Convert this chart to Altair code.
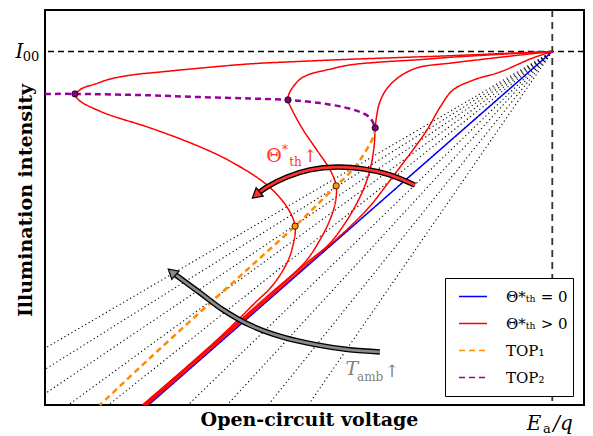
import altair as alt
import pandas as pd

# ---------------- data (normalised units: V/(E_a/q), I/I00) ----------------
SERIES = ["Θ*ₜₕ = 0", "Θ*ₜₕ > 0", "TOP₁", "TOP₂"]
COLORS = ["#0000ff", "#ff0000", "#ff8c00", "#990099"]
DASHES = [[1, 0], [1, 0], [6, 4], [6, 4]]

# ambient-temperature lines: all start at (1, 1), x-intercepts at I = 0
T_AMB_X0 = [0.519, 0.440, 0.359, 0.282, 0.204, 0.125, 0.046, -0.033, -0.112, -0.191]

THETA0_X = [1.000, 0.204]
THETA0_Y = [1.000, 0.000]

RED_A_X = [1.000, 0.897, 0.798, 0.700, 0.601, 0.503, 0.404, 0.306, 0.227, 0.173, 0.128, 0.099,
           0.075, 0.063, 0.059, 0.063, 0.075, 0.099, 0.128, 0.207, 0.306, 0.371, 0.438, 0.477,
           0.493, 0.489, 0.477, 0.449, 0.414, 0.384, 0.336, 0.265, 0.192]
RED_A_Y = [1.000, 0.994, 0.988, 0.983, 0.978, 0.972, 0.965, 0.953, 0.942, 0.934, 0.922, 0.908,
           0.897, 0.885, 0.880, 0.868, 0.854, 0.837, 0.820, 0.784, 0.730, 0.685, 0.622, 0.560,
           0.506, 0.453, 0.402, 0.339, 0.289, 0.246, 0.180, 0.090, 0.000]

RED_B_X = [1.000, 0.897, 0.792, 0.739, 0.660, 0.601, 0.556, 0.522, 0.503, 0.489, 0.481, 0.479,
           0.487, 0.509, 0.536, 0.562, 0.574, 0.572, 0.560, 0.542, 0.513, 0.432, 0.353, 0.274, 0.195]
RED_B_Y = [1.000, 0.992, 0.983, 0.977, 0.970, 0.962, 0.948, 0.936, 0.922, 0.900, 0.880, 0.863,
           0.835, 0.778, 0.721, 0.665, 0.620, 0.571, 0.518, 0.467, 0.405, 0.300, 0.200, 0.100, 0.000]

RED_C_X = [1.000, 0.936, 0.857, 0.798, 0.739, 0.710, 0.690, 0.672, 0.660, 0.654, 0.651,
           0.649, 0.643, 0.631, 0.613, 0.589, 0.560, 0.514, 0.436, 0.356, 0.277, 0.198]
RED_C_Y = [1.000, 0.990, 0.977, 0.967, 0.956, 0.939, 0.919, 0.891, 0.857, 0.820, 0.784,
           0.736, 0.679, 0.622, 0.566, 0.509, 0.455, 0.400, 0.300, 0.200, 0.100, 0.000]

RED_D_X = [1.000, 0.962, 0.897, 0.844, 0.804, 0.779, 0.753, 0.725, 0.700, 0.672, 0.641,
           0.598, 0.519, 0.440, 0.360, 0.281, 0.201]
RED_D_Y = [1.000, 0.982, 0.942, 0.919, 0.891, 0.843, 0.778, 0.721, 0.673, 0.620, 0.563,
           0.500, 0.400, 0.300, 0.200, 0.100, 0.000]

TOP1_X = [0.651, 0.647, 0.621, 0.597, 0.574, 0.534, 0.493, 0.404, 0.306, 0.207, 0.108]
TOP1_Y = [0.784, 0.758, 0.693, 0.651, 0.620, 0.563, 0.506, 0.390, 0.263, 0.133, 0.000]

TOP2_X = [0.000, 0.059, 0.207, 0.306, 0.404, 0.479, 0.542, 0.587, 0.621, 0.641, 0.651]
TOP2_Y = [0.880, 0.880, 0.876, 0.871, 0.867, 0.863, 0.854, 0.843, 0.829, 0.812, 0.784]

TOP1_DOT_X = [0.493, 0.574]
TOP1_DOT_Y = [0.506, 0.620]
TOP2_DOT_X = [0.059, 0.479, 0.651]
TOP2_DOT_Y = [0.880, 0.863, 0.784]

THETA_ARROW_X = [0.729, 0.680, 0.627, 0.576, 0.522, 0.477, 0.438, 0.416]
THETA_ARROW_Y = [0.622, 0.651, 0.668, 0.673, 0.665, 0.645, 0.617, 0.594]
TAMB_ARROW_X = [0.660, 0.601, 0.536, 0.469, 0.404, 0.351, 0.306, 0.266, 0.250]
TAMB_ARROW_Y = [0.150, 0.156, 0.170, 0.192, 0.226, 0.269, 0.317, 0.359, 0.376]

X_DOMAIN = [0.0, 1.0625]
Y_DOMAIN = [0.0, 1.1174]

# ---------------- tables ----------------
def table(parts):
    rows = []
    for series, cid, xs, ys in parts:
        for i, (x, y) in enumerate(zip(xs, ys)):
            rows.append({"series": series, "curve": cid, "i": i, "x": x, "y": y})
    return pd.DataFrame(rows)

solid_df = table([(SERIES[0], "b", THETA0_X, THETA0_Y),
                  (SERIES[1], "A", RED_A_X, RED_A_Y),
                  (SERIES[1], "B", RED_B_X, RED_B_Y),
                  (SERIES[1], "C", RED_C_X, RED_C_Y),
                  (SERIES[1], "D", RED_D_X, RED_D_Y)])
dashed_df = table([(SERIES[2], "t1", TOP1_X, TOP1_Y),
                   (SERIES[3], "t2", TOP2_X, TOP2_Y)])
dotted_df = table([("T", k, [1.0, x0], [1.0, 0.0]) for k, x0 in enumerate(T_AMB_X0)])
theta_arrow_df = pd.DataFrame({"x": THETA_ARROW_X, "y": THETA_ARROW_Y, "i": range(len(THETA_ARROW_X))})
tamb_arrow_df = pd.DataFrame({"x": TAMB_ARROW_X, "y": TAMB_ARROW_Y, "i": range(len(TAMB_ARROW_X))})
one = pd.DataFrame({"a": [0]})

# ---------------- encodings ----------------
SERIF = "DejaVu Serif"
XS = alt.Scale(domain=X_DOMAIN, nice=False, zero=False)
YS = alt.Scale(domain=Y_DOMAIN, nice=False, zero=False)
XAXIS = alt.Axis(values=[1], labels=False, title="Open-circuit voltage",
                 titleFont=SERIF, titleFontWeight="bold", titleFontSize=19,
                 titleColor="black", titleY=20, titleX=264, titleBaseline="alphabetic",
                 grid=False, domain=False, ticks=False)
YAXIS = alt.Axis(values=[1], labels=False, title="Illumination intensity",
                 titleFont=SERIF, titleFontWeight="bold", titleFontSize=19,
                 titleColor="black", titleX=-14, titleY=190, titleAngle=270,
                 titleBaseline="alphabetic", titleAlign="center",
                 grid=False, domain=False, ticks=False)
X = alt.X("x:Q", scale=XS, axis=XAXIS)
Y = alt.Y("y:Q", scale=YS, axis=YAXIS)

LEG = alt.Legend(title=None, orient="none", legendX=400, legendY=268, symbolType="stroke",
                 symbolSize=784, symbolStrokeWidth=1.5, clipHeight=27, rowPadding=0,
                 padding=5, symbolOffset=8, labelOffset=18, labelFont=SERIF, labelFontSize=15,
                 labelColor="black", strokeColor="black", fillColor="white", labelLimit=200)
COLOR = alt.Color("series:N", scale=alt.Scale(domain=SERIES, range=COLORS), legend=LEG)
DASH = alt.StrokeDash("series:N", scale=alt.Scale(domain=SERIES, range=DASHES), legend=LEG)

# ---------------- layers ----------------
dotted = alt.Chart(dotted_df).mark_line(clip=True, color="black", strokeWidth=1.1,
                                         strokeDash=[1.2, 2.8]).encode(x=X, y=Y, detail="curve:N", order="i:Q")

i00 = alt.Chart(pd.DataFrame({"y": [1.0]})).mark_rule(color="black", strokeWidth=1.5,
                                                      strokeDash=[6, 4]).encode(y=Y)
ea = alt.Chart(pd.DataFrame({"x": [1.0]})).mark_rule(color="#333333", strokeWidth=1.8,
                                                     strokeDash=[7, 5]).encode(x=X)

solid = alt.Chart(solid_df).mark_line(strokeWidth=1.5, interpolate="catmull-rom").encode(
    x=X, y=Y, color=COLOR, strokeDash=DASH, detail="curve:N", order="i:Q")
dashed = alt.Chart(dashed_df).mark_line(strokeWidth=2.5, interpolate="catmull-rom").encode(
    x=X, y=Y, color=COLOR, strokeDash=DASH, detail="curve:N", order="i:Q")

def arrow(df, fill, angle):
    outline = alt.Chart(df).mark_line(color="black", strokeWidth=5.5, interpolate="catmull-rom",
                                      strokeCap="butt").encode(x=X, y=Y, order="i:Q")
    core = alt.Chart(df).mark_line(color=fill, strokeWidth=2.8, interpolate="catmull-rom",
                                   strokeCap="butt").encode(x=X, y=Y, order="i:Q")
    head = alt.Chart(df.tail(1)).mark_point(shape="triangle-up", filled=True, fill=fill,
                                            stroke="black", strokeWidth=1.2, size=120,
                                            opacity=1, angle=angle).encode(x=X, y=Y)
    return outline + core + head

theta_arrow = arrow(theta_arrow_df, "#ff3030", 230)
tamb_arrow = arrow(tamb_arrow_df, "#8a8a8a", 311)

dots1 = alt.Chart(pd.DataFrame({"x": TOP1_DOT_X, "y": TOP1_DOT_Y})).mark_point(
    shape="circle", filled=True, fill="#ff9900", stroke="black", strokeWidth=0.8, size=40,
    opacity=1).encode(x=X, y=Y)
dots2 = alt.Chart(pd.DataFrame({"x": TOP2_DOT_X, "y": TOP2_DOT_Y})).mark_point(
    shape="circle", filled=True, fill="#800080", stroke="black", strokeWidth=0.8, size=40,
    opacity=1).encode(x=X, y=Y)

def label(text, x, y, size, color, style="normal", font=SERIF):
    return alt.Chart(one).mark_text(text=text, font=font, fontSize=size, color=color,
                                    fontStyle=style, baseline="alphabetic", align="center").encode(
        x=alt.datum(x), y=alt.datum(y))

RED_TXT = "#ff3030"
GRAY_TXT = "#808080"
texts = (label("Θ", 0.4514, 0.687, 19, RED_TXT)
         + label("*", 0.4731, 0.710, 12, RED_TXT)
         + label("th", 0.4938, 0.676, 12, RED_TXT)
         + label("↑", 0.5224, 0.687, 17, RED_TXT)
         + label("T", 0.605, 0.085, 19, GRAY_TXT, "italic")
         + label("amb", 0.641, 0.069, 12, GRAY_TXT)
         + label("↑", 0.684, 0.078, 17, GRAY_TXT))

# tick labels I00 and E_a/q, built from text pieces
ticklabels = (label("I", -0.0503, 0.982, 20, "black", "italic")
              + label("00", -0.0276, 0.9745, 13, "black")
              + label("E", 0.964, -0.0707, 20, "black", "italic")
              + label("a", 0.9895, -0.0792, 13, "black")
              + label("/q", 1.0211, -0.0707, 20, "black", "italic"))

chart = alt.layer(dotted, i00, ea, solid, dashed, theta_arrow, tamb_arrow, dots1, dots2,
                  texts, ticklabels).properties(
    width=539, height=395,
    autosize=alt.AutoSizeParams(type="none"),
    padding={"left": 45, "top": 10, "right": 9, "bottom": 31},
).configure_view(stroke="black", strokeWidth=2).configure_legend(strokeWidth=1, cornerRadius=0)

chart.save("out.html", embed_options={"renderer": "svg", "actions": False})
